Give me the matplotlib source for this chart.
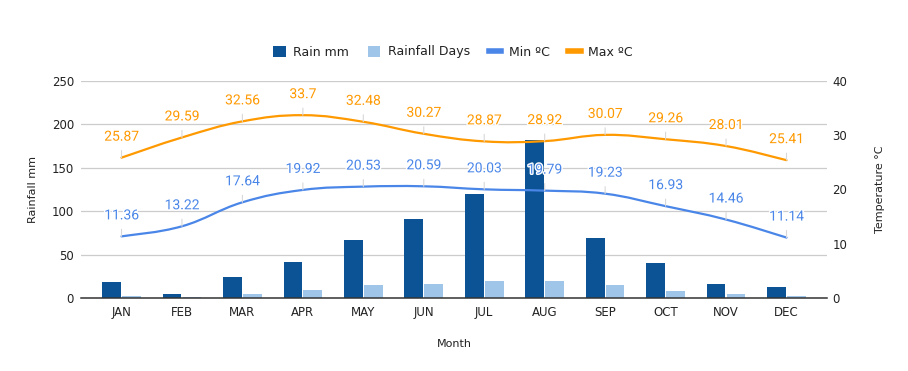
import numpy as np
import matplotlib.pyplot as plt
import matplotlib.patheffects as pe
from matplotlib.path import Path
from matplotlib.patches import PathPatch, Patch
from matplotlib.lines import Line2D

months = ["JAN", "FEB", "MAR", "APR", "MAY", "JUN",
          "JUL", "AUG", "SEP", "OCT", "NOV", "DEC"]
rain_mm = [18, 5, 24, 41, 67, 91, 120, 182, 69, 40, 16, 13]
rain_days = [2, 1, 4.5, 9, 15, 16, 20, 20, 15, 8, 5, 2.3]
min_c = [11.36, 13.22, 17.64, 19.92, 20.53, 20.59,
         20.03, 19.79, 19.23, 16.93, 14.46, 11.14]
max_c = [25.87, 29.59, 32.56, 33.7, 32.48, 30.27,
         28.87, 28.92, 30.07, 29.26, 28.01, 25.41]

DARK = "#0b5394"
LIGHT = "#9fc5e8"
BLUE = "#4a86e8"
ORANGE = "#ff9900"
TXT = "#222222"


def smooth_path(xs, ys, k=0.2):
    # cubic bezier through the points (catmull-rom style tangents)
    pts = np.column_stack([xs, ys]).astype(float)
    n = len(pts)
    verts = [pts[0]]
    codes = [Path.MOVETO]
    for i in range(n - 1):
        p0 = pts[i - 1] if i > 0 else pts[i]
        p1 = pts[i]
        p2 = pts[i + 1]
        p3 = pts[i + 2] if i + 2 < n else pts[i + 1]
        verts += [p1 + (p2 - p0) * k, p2 - (p3 - p1) * k, p2]
        codes += [Path.CURVE4] * 3
    return Path(verts, codes)


def main():
    plt.rcParams["font.family"] = ["DejaVu Sans"]
    x = np.arange(len(months))

    fig = plt.figure(figsize=(9.08, 3.71), dpi=100)
    ax = fig.add_axes([81 / 908, 73 / 371, 746 / 908, 217 / 371])
    ax2 = ax.twinx()

    w = 0.31
    ax.bar(x - 0.165, rain_mm, width=w, color=DARK, zorder=2)
    ax.bar(x + 0.165, rain_days, width=w, color=LIGHT, zorder=2)

    ax.set_xlim(-0.67, 11.67)
    ax.set_ylim(0, 250)
    ax.set_yticks(range(0, 251, 50))
    ax.grid(axis="y", color="#cccccc", lw=0.9, zorder=0)
    ax.set_axisbelow(True)
    for s in ["top", "left", "right"]:
        ax.spines[s].set_visible(False)
    ax.spines["bottom"].set_color("#333333")
    ax.spines["bottom"].set_linewidth(1.1)
    ax.set_xticks(x)
    ax.set_xticklabels(months)
    ax.tick_params(axis="both", length=0, colors=TXT, labelsize=8.5)
    ax.tick_params(axis="x", pad=6)
    ax.tick_params(axis="y", pad=5)
    ax.set_ylabel("Rainfall mm", fontsize=8, color=TXT, labelpad=10)
    ax.set_xlabel("Month", fontsize=8, color=TXT, labelpad=14)

    ax2.set_ylim(0, 40)
    ax2.set_yticks(range(0, 41, 10))
    ax2.tick_params(axis="y", length=0, colors=TXT, labelsize=8.5, pad=4)
    for s in ax2.spines.values():
        s.set_visible(False)
    ax2.set_ylabel("Temperature °C", fontsize=8, color=TXT, labelpad=20)

    for vals, col in [(min_c, BLUE), (max_c, ORANGE)]:
        ax2.add_patch(PathPatch(smooth_path(x, vals), fill=False,
                                edgecolor=col, lw=1.6, zorder=3,
                                capstyle="round"))
        for xi, v in zip(x, vals):
            ax2.annotate(f"{v:g}", (xi, v), xytext=(0, 21),
                         textcoords="offset pixels", ha="center",
                         va="center", fontsize=10, color=col,
                         family=["Roboto", "DejaVu Sans"], zorder=4,
                         path_effects=[pe.withStroke(linewidth=2,
                                                     foreground="white")],
                         arrowprops=dict(arrowstyle="-", color="#d8d8d8",
                                         lw=0.8, shrinkA=3, shrinkB=0))

    handles = [
        Patch(facecolor=DARK, edgecolor="none"),
        Patch(facecolor=LIGHT, edgecolor="none"),
        Line2D([], [], color=BLUE, lw=4),
        Line2D([], [], color=ORANGE, lw=4),
    ]
    fig.legend(handles, ["Rain mm", "Rainfall Days", "Min ºC", "Max ºC"],
               loc="center", bbox_to_anchor=(453 / 908, 1 - 52 / 371),
               ncol=4, frameon=False, fontsize=9, handlelength=1.0,
               handleheight=1.0, handletextpad=0.6, columnspacing=1.5,
               labelcolor=TXT)

    fig.savefig("out.png", dpi=100)
    plt.close(fig)


if __name__ == "__main__":
    main()
